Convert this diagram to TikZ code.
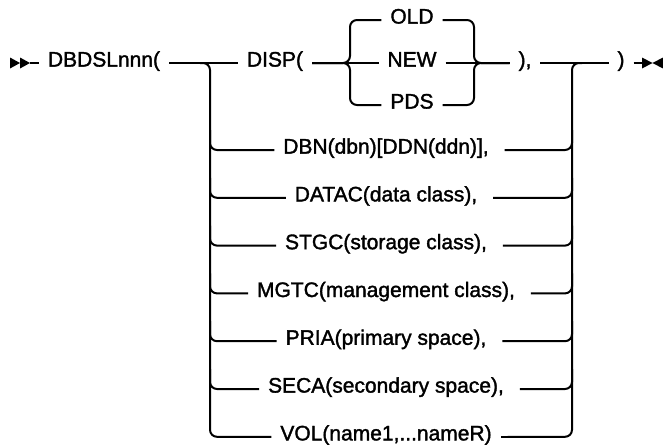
\documentclass[tikz,border=0pt]{standalone}
\usepackage{fontspec}
\setmainfont{Liberation Sans}
\newfontfamily\railfont{Liberation Sans}[FakeBold=1.6]
\usetikzlibrary{positioning}

\begin{document}
\begin{tikzpicture}[x=1pt, y=-1pt, line width=2pt, node distance=47.8pt, on grid,
    kw/.style={inner sep=0pt, outer xsep=9pt, text height=0.72em, text depth=0pt,
        font=\railfont\fontsize{21}{25}\selectfont},
    rail/.style={rounded corners=7pt},
    endmark/.style={fill, draw=none}]
    \useasboundingbox (0,0) rectangle (663,447);

    \node[kw] (dbds)   at (104,63) {DBDSLnnn(};
    \node[kw] (disp)   at (275,63) {DISP(};
    \node[kw] (new)    at (412,63) {NEW};
    \node[kw] (old)    [above=43pt of new] {OLD};
    \node[kw] (pds)    [below=42pt of new] {PDS};
    \node[kw] (close1) at (525,63) {),};
    \node[kw] (close2) at (621,63) {)};

    \node[kw] (dbn)    at (386,150) {DBN(dbn)[DDN(ddn)],};
    \node[kw] (datac)  [below=of dbn]   {DATAC(data class),};
    \node[kw] (stgc)   [below=of datac] {STGC(storage class),};
    \node[kw] (mgtc)   [below=of stgc]  {MGTC(management class),};
    \node[kw] (pria)   [below=of mgtc]  {PRIA(primary space),};
    \node[kw] (seca)   [below=of pria]  {SECA(secondary space),};
    \node[kw] (vol)    [below=of seca]  {VOL(name1,...nameR)};

    \coordinate (start)  at (30,63);
    \coordinate (stop)   at (643,63);
    \coordinate (split)  at (210,63);
    \coordinate (join)   at (572,63);
    \coordinate (csplit) at (350,63);
    \coordinate (cjoin)  at (474,63);

    \path[endmark] (10,57.5) -- (20,63) -- (10,68.5) -- cycle
                   (20,57.5) -- (30,63) -- (20,68.5) -- cycle;
    \path[endmark] (642,57.5) -- (652.5,63) -- (642,68.5) -- cycle
                   (663,57.5) -- (652.5,63) -- (663,68.5) -- cycle;

    \draw (start) -- (dbds.west);
    \draw (dbds.east) -- (disp.west);
    \draw (disp.east) -- (new.west);
    \draw[rail] (disp.east) -- (csplit) |- (old.west);
    \draw[rail] (disp.east) -- (csplit) |- (pds.west);
    \draw (new.east) -- (close1.west);
    \draw[rail] (old.east) -| (cjoin) -- (close1.west);
    \draw[rail] (pds.east) -| (cjoin) -- (close1.west);
    \draw (close1.east) -- (close2.west);
    \draw (close2.east) -- (stop);

    \draw[rail] ([xshift=-10pt]split) -- (split) |- (vol.west);
    \draw[rail] ([xshift=7pt]vol.east) -| (join) -- ([xshift=10pt]join);
    \draw ([xshift=7pt]vol.east) -- (vol.east);
    \foreach \nm in {dbn,datac,stgc,mgtc,pria,seca}{
        \draw[rail] (\nm.west) -| ([yshift=20pt]split |- \nm.west);
        \draw[rail] ([xshift=7pt]\nm.east) -| ([yshift=20pt]join |- \nm.east);
    }
\end{tikzpicture}
\end{document}
